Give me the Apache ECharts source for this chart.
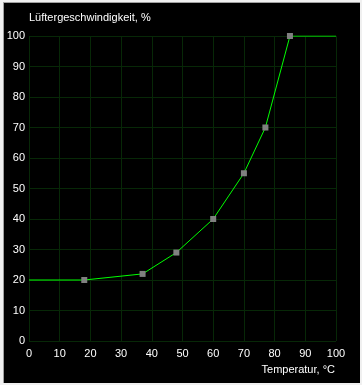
<!DOCTYPE html>
<html>
<head>
<meta charset="utf-8">
<script src="https://cdn.jsdelivr.net/npm/echarts@6/dist/echarts.min.js"></script>
<style>
html,body{margin:0;padding:0;background:#f0f0f0;}
#frame{position:absolute;left:3px;top:2px;width:357px;height:381px;background:#000;border-left:1px solid #a0a0a0;border-top:1px solid #a0a0a0;box-sizing:border-box;}
#c{position:absolute;left:0;top:0;width:362px;height:385px;}
</style>
</head>
<body>
<div id="frame"></div>
<div id="c"></div>
<script>
var temps = [18, 37, 48, 60, 70, 77, 85];
var speeds = [20, 22, 29, 40, 55, 70, 100];
var startPoint = [0, 20];
var endPoint = [100, 100];
var xTicks = [0, 10, 20, 30, 40, 50, 60, 70, 80, 90, 100];
var yTicks = [0, 10, 20, 30, 40, 50, 60, 70, 80, 90, 100];
var titleText = 'Lüftergeschwindigkeit, %';
var xName = 'Temperatur, °C';

var data = [{value: startPoint, symbol: 'none'}];
for (var i = 0; i < temps.length; i++) data.push({value: [temps[i], speeds[i]]});
data.push({value: endPoint, symbol: 'none'});

var font = '"Liberation Sans", Arial, sans-serif';
var chart = echarts.init(document.getElementById('c'), null, {renderer: 'canvas'});
chart.setOption({
  backgroundColor: 'transparent',
  animation: false,
  title: [
    {text: titleText, left: 29, top: 12, padding: 0,
     textStyle: {color: '#ffffff', fontSize: 11, fontWeight: 'normal', fontFamily: font}},
    {text: xName, right: 27, top: 364, padding: 0,
     textStyle: {color: '#ffffff', fontSize: 11, fontWeight: 'normal', fontFamily: font}}
  ],
  grid: {left: 29, right: 26, top: 36, bottom: 44, containLabel: false},
  xAxis: {
    type: 'value', min: xTicks[0], max: xTicks[xTicks.length - 1], interval: 10,
    axisLine: {show: false}, axisTick: {show: false},
    axisLabel: {color: '#ffffff', fontSize: 11, fontFamily: font, margin: 7},
    splitLine: {show: true, lineStyle: {color: '#072807', width: 1}}
  },
  yAxis: {
    type: 'value', min: yTicks[0], max: yTicks[yTicks.length - 1], interval: 10,
    axisLine: {show: false}, axisTick: {show: false},
    axisLabel: {color: '#ffffff', fontSize: 11, fontFamily: font, margin: 4},
    splitLine: {show: true, lineStyle: {color: '#072807', width: 1}}
  },
  series: [{
    type: 'line',
    data: data,
    symbol: 'rect',
    symbolSize: 6,
    showAllSymbol: true,
    lineStyle: {color: '#00ff00', width: 1},
    itemStyle: {color: '#808080', borderWidth: 0},
    z: 3
  }]
});
</script>
</body>
</html>
